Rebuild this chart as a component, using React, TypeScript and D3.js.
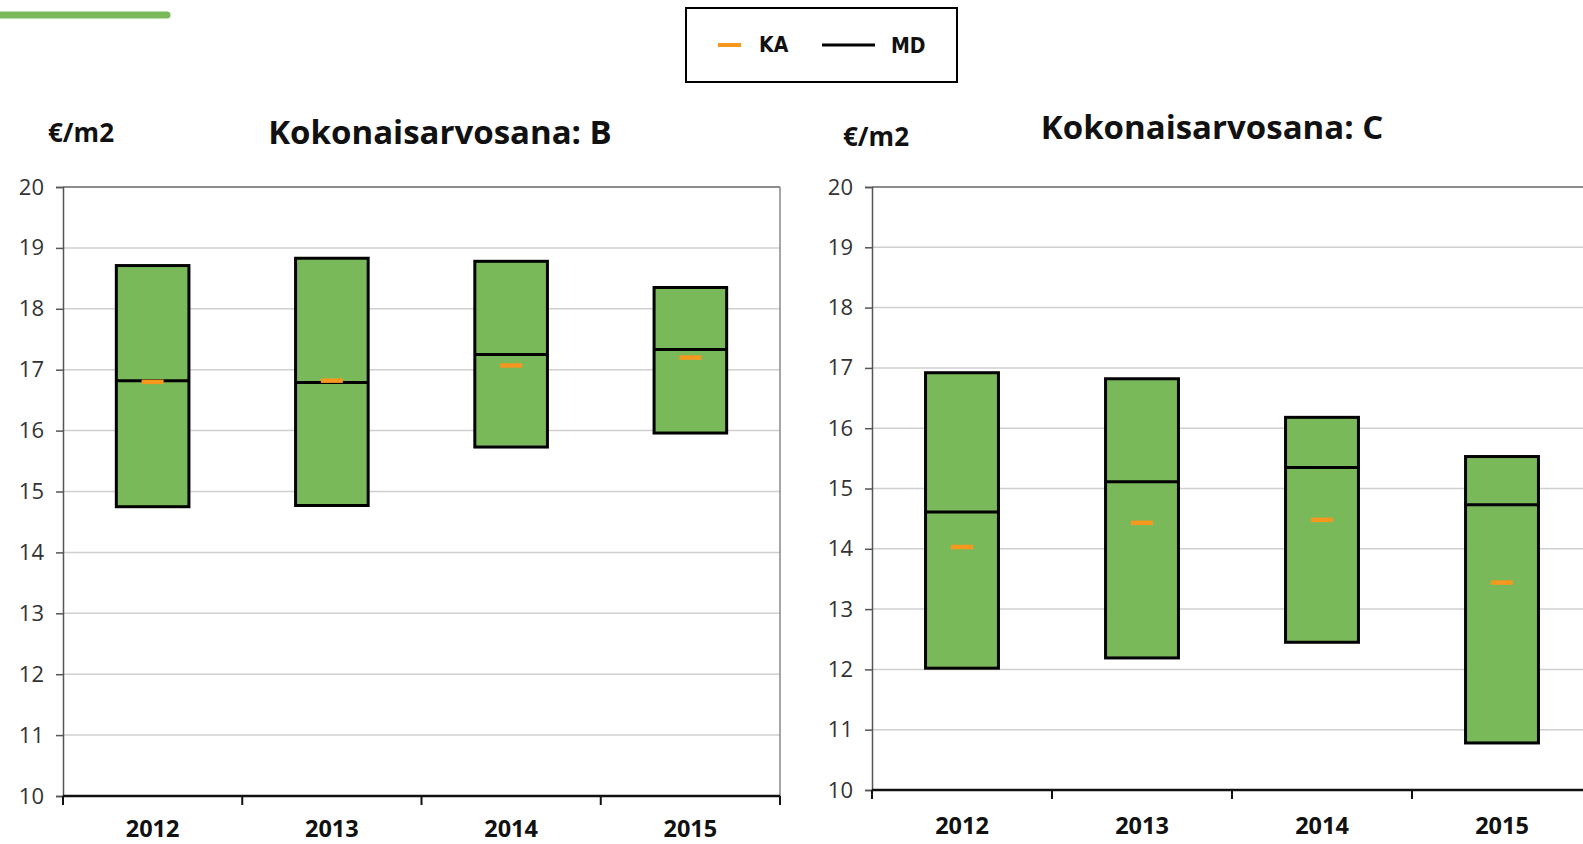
import React, { useEffect, useRef } from "react";
import * as d3 from "d3";

const years = ["2012", "2013", "2014", "2015"];
const yTicks = [10, 11, 12, 13, 14, 15, 16, 17, 18, 19, 20];

// Panel B
const bMax = [18.71, 18.83, 18.78, 18.35];
const bMin = [14.75, 14.77, 15.73, 15.96];
const bMd = [16.82, 16.79, 17.25, 17.33];
const bKa = [16.8, 16.82, 17.07, 17.2];

// Panel C
const cMax = [16.92, 16.82, 16.18, 15.53];
const cMin = [12.02, 12.19, 12.45, 10.78];
const cMd = [14.61, 15.11, 15.35, 14.73];
const cKa = [14.03, 14.43, 14.48, 13.44];

const titles = ["Kokonaisarvosana: B", "Kokonaisarvosana: C"];
const unitLabel = "€/m2";
const legendLabels = ["KA", "MD"];

const GREEN = "#79b95a";
const ORANGE = "#f7971e";
const FONT = "'Open Sans', Lato, sans-serif";

type Panel = {
  left: number; right: number; top: number; bottom: number;
  title: string; titleX: number; titleY: number;
  unitX: number; unitY: number; yearY: number;
  max: number[]; min: number[]; md: number[]; ka: number[];
};

export default function App() {
  const ref = useRef<SVGSVGElement>(null);

  useEffect(() => {
    const svg = d3.select(ref.current);
    svg.selectAll("*").remove();

    // top-left decorative line
    svg.append("line")
      .attr("x1", -5).attr("x2", 167).attr("y1", 15).attr("y2", 15)
      .attr("stroke", GREEN).attr("stroke-width", 7).attr("stroke-linecap", "round");

    // legend
    const lg = svg.append("g");
    lg.append("rect").attr("x", 686).attr("y", 8).attr("width", 271).attr("height", 74)
      .attr("fill", "#fff").attr("stroke", "#000").attr("stroke-width", 2);
    lg.append("line").attr("x1", 718).attr("x2", 741).attr("y1", 45).attr("y2", 45)
      .attr("stroke", ORANGE).attr("stroke-width", 4);
    lg.append("text").attr("x", 759).attr("y", 52).text(legendLabels[0])
      .attr("font-family", "'DejaVu Sans Condensed', 'DejaVu Sans', sans-serif").attr("font-weight", "bold")
      .attr("font-size", 21).attr("fill", "#111");
    lg.append("line").attr("x1", 822).attr("x2", 875).attr("y1", 45).attr("y2", 45)
      .attr("stroke", "#000").attr("stroke-width", 3);
    lg.append("text").attr("x", 891).attr("y", 53).text(legendLabels[1])
      .attr("font-family", "'DejaVu Sans Condensed', 'DejaVu Sans', sans-serif").attr("font-weight", "bold")
      .attr("font-size", 21).attr("fill", "#111");

    const panels: Panel[] = [
      { left: 63, right: 780, top: 187, bottom: 796, title: titles[0], titleX: 440, titleY: 144,
        unitX: 48, unitY: 142, yearY: 837, max: bMax, min: bMin, md: bMd, ka: bKa },
      { left: 872, right: 1592, top: 187, bottom: 790, title: titles[1], titleX: 1212, titleY: 139,
        unitX: 843, unitY: 146, yearY: 834, max: cMax, min: cMin, md: cMd, ka: cKa },
    ];

    panels.forEach((p) => {
      const g = svg.append("g");
      const x = d3.scaleBand<string>().domain(years).range([p.left, p.right]).paddingInner(0).paddingOuter(0);
      const y = d3.scaleLinear().domain([10, 20]).range([p.bottom, p.top]);

      // gridlines
      g.selectAll(".grid").data(yTicks.filter((t) => t > 10 && t < 20)).enter().append("line")
        .attr("x1", p.left).attr("x2", p.right)
        .attr("y1", (d) => y(d)).attr("y2", (d) => y(d))
        .attr("stroke", "#cfcfcf").attr("stroke-width", 1.5);
      // top border
      g.append("line").attr("x1", p.left).attr("x2", p.right).attr("y1", y(20)).attr("y2", y(20))
        .attr("stroke", "#666").attr("stroke-width", 1.5);
      // right border
      g.append("line").attr("x1", p.right).attr("x2", p.right).attr("y1", p.top).attr("y2", p.bottom)
        .attr("stroke", "#888").attr("stroke-width", 1.5);

      // y axis
      const ya = d3.axisLeft(y).tickValues(yTicks).tickSize(7).tickPadding(12).tickFormat(d3.format("d"));
      const yg = g.append("g").attr("transform", `translate(${p.left},0)`).call(ya);
      yg.select(".domain").attr("stroke", "#555").attr("stroke-width", 1.5);
      yg.selectAll(".tick line").attr("stroke", "#555").attr("stroke-width", 1.5);
      yg.selectAll(".tick text").attr("font-family", FONT).attr("font-size", 22).attr("fill", "#333");

      // x axis
      g.append("line").attr("x1", p.left).attr("x2", p.right).attr("y1", p.bottom).attr("y2", p.bottom)
        .attr("stroke", "#111").attr("stroke-width", 2.5);
      const bounds = years.map((yr) => x(yr) as number).concat([p.right]);
      g.selectAll(".xt").data(bounds).enter().append("line")
        .attr("x1", (d) => d).attr("x2", (d) => d).attr("y1", p.bottom).attr("y2", p.bottom + 9)
        .attr("stroke", "#111").attr("stroke-width", 2);
      g.selectAll(".xl").data(years).enter().append("text")
        .attr("x", (d) => (x(d) as number) + x.bandwidth() / 2).attr("y", p.yearY)
        .attr("text-anchor", "middle").attr("font-family", FONT).attr("font-weight", "bold")
        .attr("font-size", 23.5).attr("fill", "#111").text((d) => d);

      // boxes
      const bw = x.bandwidth() * 0.405;
      const idx = years.map((_, i) => i);
      g.selectAll(".box").data(idx).enter().append("rect")
        .attr("x", (i) => (x(years[i]) as number) + x.bandwidth() / 2 - bw / 2)
        .attr("width", bw)
        .attr("y", (i) => y(p.max[i]))
        .attr("height", (i) => y(p.min[i]) - y(p.max[i]))
        .attr("fill", GREEN).attr("stroke", "#000").attr("stroke-width", 3);
      g.selectAll(".md").data(idx).enter().append("line")
        .attr("x1", (i) => (x(years[i]) as number) + x.bandwidth() / 2 - bw / 2)
        .attr("x2", (i) => (x(years[i]) as number) + x.bandwidth() / 2 + bw / 2)
        .attr("y1", (i) => y(p.md[i])).attr("y2", (i) => y(p.md[i]))
        .attr("stroke", "#000").attr("stroke-width", 3);
      g.selectAll(".ka").data(idx).enter().append("line")
        .attr("x1", (i) => (x(years[i]) as number) + x.bandwidth() / 2 - 11)
        .attr("x2", (i) => (x(years[i]) as number) + x.bandwidth() / 2 + 11)
        .attr("y1", (i) => y(p.ka[i])).attr("y2", (i) => y(p.ka[i]))
        .attr("stroke", ORANGE).attr("stroke-width", 4.5);

      // titles
      g.append("text").attr("x", p.titleX).attr("y", p.titleY).attr("text-anchor", "middle")
        .attr("font-family", FONT).attr("font-weight", "bold").attr("font-size", 33).attr("fill", "#111")
        .text(p.title);
      g.append("text").attr("x", p.unitX).attr("y", p.unitY)
        .attr("font-family", FONT).attr("font-weight", "bold").attr("font-size", 26).attr("fill", "#111")
        .text(unitLabel);
    });
  }, []);

  return (
    <svg ref={ref} width={1583} height={844}
      style={{ position: "fixed", left: 0, top: 0, background: "#fff" }} />
  );
}
